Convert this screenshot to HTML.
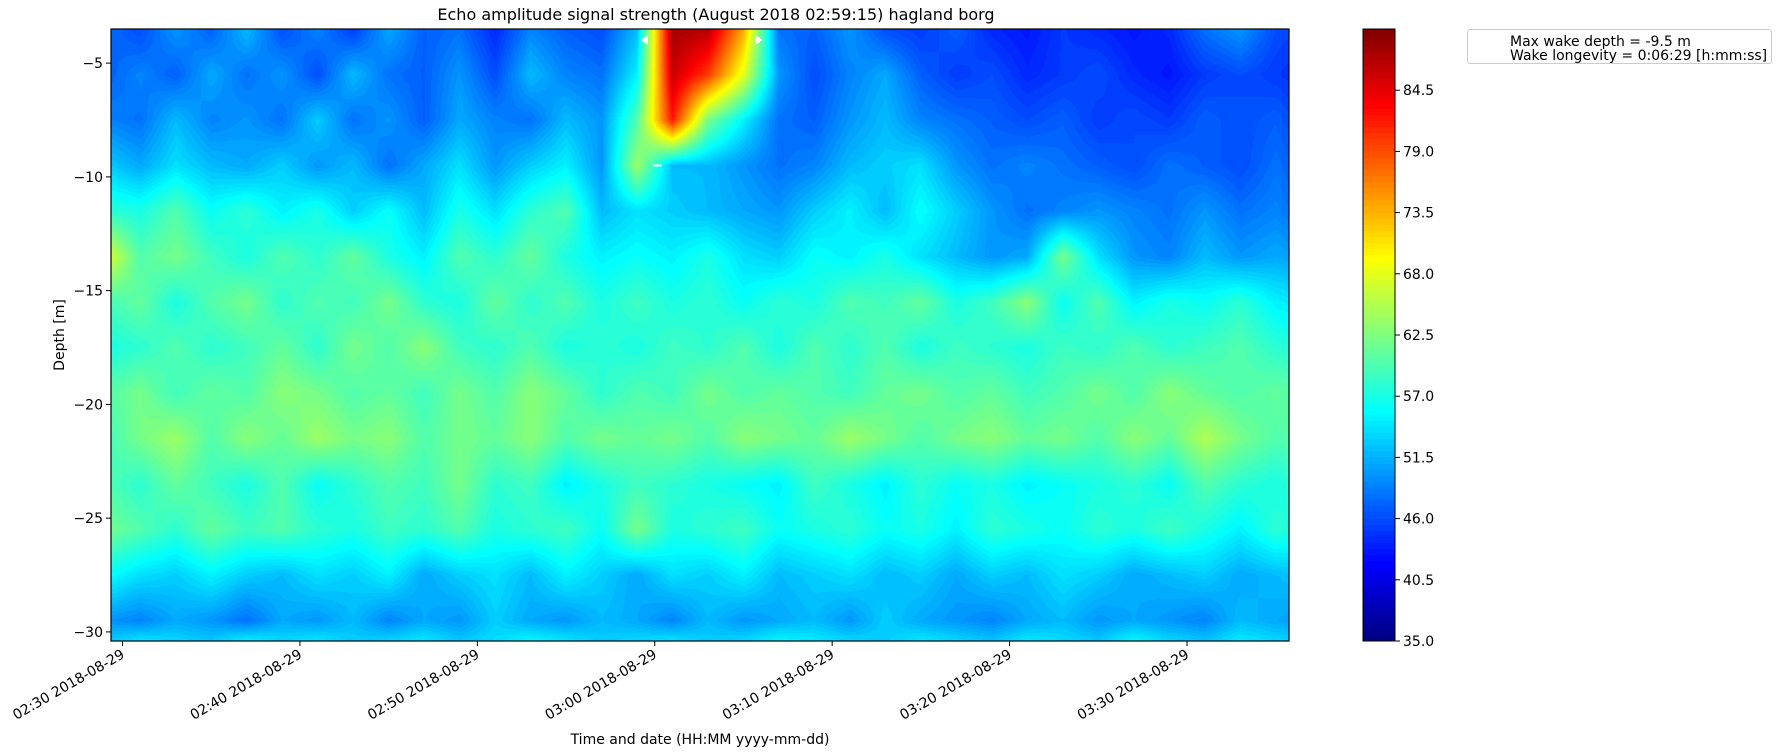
<!DOCTYPE html>
<html><head><meta charset="utf-8">
<style>
html,body{margin:0;padding:0;background:#fff;}
body{width:1782px;height:755px;position:relative;overflow:hidden;font-family:"DejaVu Sans","Liberation Sans",sans-serif;}
canvas{position:absolute;}
svg{position:absolute;left:0;top:0;}
</style></head>
<body>
<canvas id="heat" width="1178" height="612" style="left:111px;top:29px;"></canvas>
<canvas id="cbar" width="32" height="612" style="left:1363px;top:29px;"></canvas>
<svg id="ov" width="1782" height="755"></svg>
<script>
// time columns (minutes after 02:00) and depth rows (m)
const timesMin = [29,31,33,35,37,39,41,43,45,47,49,51,53,55,57,59,61,63,65,67,69,71,73,75,77,79,81,83,85,87,89,91,93,95,97];
const depths = [-3.5,-5.5,-7.5,-9.5,-11.5,-13.5,-15.5,-17.5,-19.5,-21.5,-23.5,-25.5,-27.5,-29.5,-30.5];
const row0 = [48,46,50,47,52,46,49,45,51,47,48,44,49,47,46,52,88,87,74,48,47,50,46,45,47,44,43,45,44,43,44,48,50,46,45];
const row1 = [47,49,47,51,48,50,46,52,48,47,50,46,52,49,48,55,86,80,68,50,46,49,51,47,45,46,44,45,46,44,43,45,46,45,44];
const row2 = [49,48,52,49,50,48,53,48,50,47,51,49,48,52,50,60,82,62,55,48,47,50,52,49,48,47,46,47,45,46,45,47,46,47,45];
const row3 = [53,51,54,52,51,53,50,52,48,51,54,50,53,55,50,64,52,52,50,48,49,52,53,54,50,48,49,48,47,46,48,47,46,48,46];
const row4 = [58,57,60,56,58,55,57,53,56,52,57,54,58,60,52,54,53,52,51,50,53,55,52,56,53,50,48,49,50,49,48,50,48,49,47];
const row5 = [68,60,62,59,57,60,58,61,57,55,60,58,61,57,55,56,55,57,54,53,56,55,57,54,52,50,51,62,54,50,49,52,50,51,50];
const row6 = [59,61,57,60,62,58,60,59,62,58,57,61,58,60,57,59,57,58,56,58,57,60,59,61,57,59,63,56,60,55,57,56,58,55,54];
const row7 = [57,58,60,58,59,61,58,62,60,63,59,58,60,57,58,57,59,58,60,57,60,58,60,57,59,58,57,59,58,60,58,59,60,58,57];
const row8 = [60,62,59,61,60,63,62,60,61,59,62,60,63,61,58,60,59,62,60,61,60,59,61,62,60,61,59,60,62,60,63,61,60,61,60];
const row9 = [59,62,64,60,63,61,64,62,63,60,62,61,63,60,62,61,62,60,63,62,61,64,62,60,62,63,61,62,60,63,61,65,62,60,61];
const row10 = [60,58,61,59,57,60,56,58,60,59,62,58,59,55,57,59,58,57,56,55,59,57,55,58,56,57,55,56,57,58,56,60,58,57,59];
const row11 = [62,60,58,61,59,60,58,57,59,58,60,57,58,59,56,62,57,58,59,56,57,58,56,57,55,58,57,56,58,57,59,57,55,58,56];
const row12 = [56,54,53,55,53,52,54,53,55,51,53,54,52,55,53,51,54,53,55,52,53,54,52,53,51,53,52,54,53,51,52,53,51,52,53];
const row13 = [50,49,51,50,48,51,50,52,49,51,50,53,51,50,52,51,49,52,50,51,52,50,53,51,50,49,51,52,50,51,50,49,52,51,50];
const row14 = [53,55,54,53,56,54,55,53,54,55,53,54,56,55,53,54,55,53,54,56,55,54,53,55,54,53,55,54,53,56,54,53,55,54,53];
const grid = [row0,row1,row2,row3,row4,row5,row6,row7,row8,row9,row10,row11,row12,row13,row14];
const xTickMin = [30,40,50,60,70,80,90];
const xTickLabels = ["02:30 2018-08-29","02:40 2018-08-29","02:50 2018-08-29","03:00 2018-08-29","03:10 2018-08-29","03:20 2018-08-29","03:30 2018-08-29"];
const yTicks = [-5,-10,-15,-20,-25,-30];
const cbTicks = [35.0,40.5,46.0,51.5,57.0,62.5,68.0,73.5,79.0,84.5];
const wakeStartMin = [59.5];
const wakeEndMin = [65.8];
const wakeMaxDepth = [-9.5];
const wakeMaxMin = [60.15];

const PL=111,PR=1289,PT=29,PB=641;
const T0=29.35,T1=95.75,D0=-3.5,D1=-30.4;
const VMIN=35,VMAX=90;
function xs(t){return PL+(t-T0)/(T1-T0)*(PR-PL);}
function ys(d){return PT+(d-D0)/(D1-D0)*(PB-PT);}
function jet(f){
  f=Math.max(0,Math.min(1,f));
  const c=x=>Math.max(0,Math.min(1,x));
  const r=c(1.5-Math.abs(4*f-3)), g=c(1.5-Math.abs(4*f-2)), b=c(1.5-Math.abs(4*f-1));
  return [r*255|0,g*255|0,b*255|0];
}
function quant(v){const n=100;const step=(VMAX-VMIN)/n;const q=Math.floor((v-VMIN)/step);return VMIN+(q+0.5)*step;}
function interp(arr,val){
  for(let i=0;i<arr.length-1;i++){
    const a=arr[i],b=arr[i+1];
    if((val-a)*(val-b)<=0){return [i,(val-a)/(b-a)];}
  }
  return val<arr[0]===(arr[0]<arr[1])?[0,0]:[arr.length-2,1];
}
(function(){
  const cv=document.getElementById('heat');const ctx=cv.getContext('2d');
  const W=cv.width,H=cv.height;const img=ctx.createImageData(W,H);
  for(let py=0;py<H;py++){
    const d=D0+(py+0.5)/H*(D1-D0);
    const [ri,rf]=interp(depths,d);
    for(let px=0;px<W;px++){
      const t=T0+(px+0.5)/W*(T1-T0);
      const [ci,cf]=interp(timesMin,t);
      const v=(1-rf)*((1-cf)*grid[ri][ci]+cf*grid[ri][ci+1])+rf*((1-cf)*grid[ri+1][ci]+cf*grid[ri+1][ci+1]);
      const col=jet((quant(v)-VMIN)/(VMAX-VMIN));
      const k=(py*W+px)*4;img.data[k]=col[0];img.data[k+1]=col[1];img.data[k+2]=col[2];img.data[k+3]=255;
    }
  }
  ctx.putImageData(img,0,0);
})();
(function(){
  const cv=document.getElementById('cbar');const ctx=cv.getContext('2d');
  const H=cv.height;
  for(let py=0;py<H;py++){
    const v=VMAX-(py+0.5)/H*(VMAX-VMIN);
    const c=jet((quant(v)-VMIN)/(VMAX-VMIN));
    ctx.fillStyle='rgb('+c.join(',')+')';ctx.fillRect(0,py,cv.width,1);
  }
})();
const NS='http://www.w3.org/2000/svg';
const ov=document.getElementById('ov');
function el(tag,attrs,text){const e=document.createElementNS(NS,tag);for(const k in attrs)e.setAttribute(k,attrs[k]);if(text!==undefined)e.textContent=text;ov.appendChild(e);return e;}
let e;
e=el('rect',{x:PL,y:PT,width:PR-PL,height:PB-PT,fill:'none',stroke:'#000','stroke-width':1.2});


e=el('text',{x:716,y:20,'font-size':16,'text-anchor':'middle',fill:'#000'},'Echo amplitude signal strength (August 2018 02:59:15) hagland borg');


yTicks.forEach(v=>{
  const y=ys(v);
  const t=el('line',{x1:PL-5,x2:PL,y1:y,y2:y,stroke:'#000','stroke-width':1});
  
  
  const l=el('text',{x:PL-8,y:y+5,'font-size':14,'text-anchor':'end'},'\u2212'+Math.abs(v));
  
  
});
e=el('text',{x:0,y:0,'font-size':14,'text-anchor':'middle',transform:'translate(64,335) rotate(-90)'},'Depth [m]');


xTickMin.forEach((m,i)=>{
  const x=xs(m);
  const t=el('line',{x1:x,x2:x,y1:PB,y2:PB+5,stroke:'#000','stroke-width':1});
  
  
  const l=el('text',{x:0,y:0,'font-size':14,'text-anchor':'end',transform:'translate('+(x+3)+','+(PB+16)+') rotate(-30)'},xTickLabels[i]);
  
  
});
e=el('text',{x:700,y:744,'font-size':14,'text-anchor':'middle'},'Time and date (HH:MM yyyy-mm-dd)');


wakeStartMin.forEach(m=>{
  const x=xs(m),y=40;
  const p=el('polygon',{points:(x-5)+','+y+' '+(x+2)+','+(y-5)+' '+(x+2)+','+(y+5),fill:'#fff'});
  
  
});
wakeEndMin.forEach(m=>{
  const x=xs(m),y=40;
  const p=el('polygon',{points:(x+5)+','+y+' '+(x-2)+','+(y-5)+' '+(x-2)+','+(y+5),fill:'#fff'});
  
  
});
wakeMaxDepth.forEach((d,i)=>{
  const x=xs(wakeMaxMin[i]),y=ys(d);
  const p=el('line',{x1:x-4,x2:x+4,y1:y,y2:y,stroke:'#fff','stroke-width':2});
  
  
});
e=el('rect',{x:1363,y:PT,width:32,height:PB-PT,fill:'none',stroke:'#000','stroke-width':1});


cbTicks.forEach(v=>{
  const y=PB-(v-VMIN)/(VMAX-VMIN)*(PB-PT);
  const t=el('line',{x1:1395,x2:1400,y1:y,y2:y,stroke:'#000','stroke-width':1});
  
  
  const l=el('text',{x:1403,y:y+5,'font-size':14},v.toFixed(1));
  
  
});
e=el('rect',{x:1467.5,y:29.5,width:304,height:34,rx:3,fill:'#fff',stroke:'#ccc','stroke-width':1});


e=el('text',{x:1510,y:46,'font-size':14},'Max wake depth = -9.5 m');


e=el('text',{x:1510,y:60,'font-size':14},'Wake longevity = 0:06:29 [h:mm:ss]');


</script>
</body></html>
